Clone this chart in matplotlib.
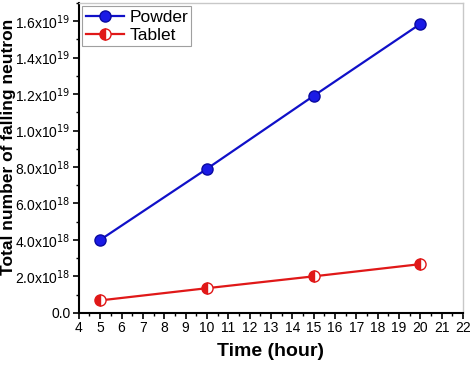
import matplotlib
matplotlib.use("Agg")
import matplotlib.pyplot as plt
from matplotlib.ticker import MultipleLocator, FuncFormatter

plt.rcParams["font.family"] = ["Liberation Sans", "DejaVu Sans"]

time_h = [5, 10, 15, 20]
powder = [4.0e18, 7.9e18, 1.19e19, 1.585e19]
tablet = [0.68e18, 1.35e18, 2.0e18, 2.67e18]


def sci(v, pos):
    if v == 0:
        return "0.0"
    exp = len(str(int(v))) - 1
    mant = v / 10 ** exp
    return f"{mant:.1f}x10$^{{{exp}}}$"


fig = plt.figure(figsize=(4.72, 3.65), dpi=100)
ax = fig.add_axes([0.167, 0.143, 0.814, 0.849])

ax.plot(time_h, powder, color="#1010c8", lw=1.6, marker="o", ms=8,
        mfc="#1a1ae6", mec="#0a0aa0", label="Powder")
ax.plot(time_h, tablet, color="#e01818", lw=1.6, marker="o", ms=8,
        fillstyle="left", mfc="#e01818", mfcalt="white", mec="#e01818",
        label="Tablet")

ax.set_xlim(4, 22)
ax.set_ylim(0, 1.7e19)
ax.xaxis.set_major_locator(MultipleLocator(1))
ax.xaxis.set_minor_locator(MultipleLocator(0.5))
ax.yaxis.set_major_locator(MultipleLocator(2e18))
ax.yaxis.set_minor_locator(MultipleLocator(1e18))
ax.yaxis.set_major_formatter(FuncFormatter(sci))

ax.tick_params(which="both", direction="out", labelsize=10, pad=2)
ax.tick_params(which="major", length=4, width=1.2)
ax.tick_params(which="minor", length=2.5, width=1.0)
for s in ("left", "bottom"):
    ax.spines[s].set_linewidth(1.5)
for s in ("top", "right"):
    ax.spines[s].set_color("#c8c8c8")
    ax.spines[s].set_linewidth(1.0)

ax.set_xlabel("Time (hour)", fontsize=14, fontweight="bold", labelpad=6)
ax.set_ylabel("Total number of falling neutron", fontsize=12.5, fontweight="bold")
ax.yaxis.set_label_coords(-0.164, 0.535)

leg = ax.legend(loc="upper left", fontsize=12.5, frameon=True, fancybox=False,
                handlelength=2.2, borderaxespad=0.2, handletextpad=0.3,
                labelspacing=0.15, borderpad=0.2)
leg.get_frame().set_edgecolor("#888888")
leg.get_frame().set_linewidth(0.8)

fig.savefig("out.png", dpi=100)
